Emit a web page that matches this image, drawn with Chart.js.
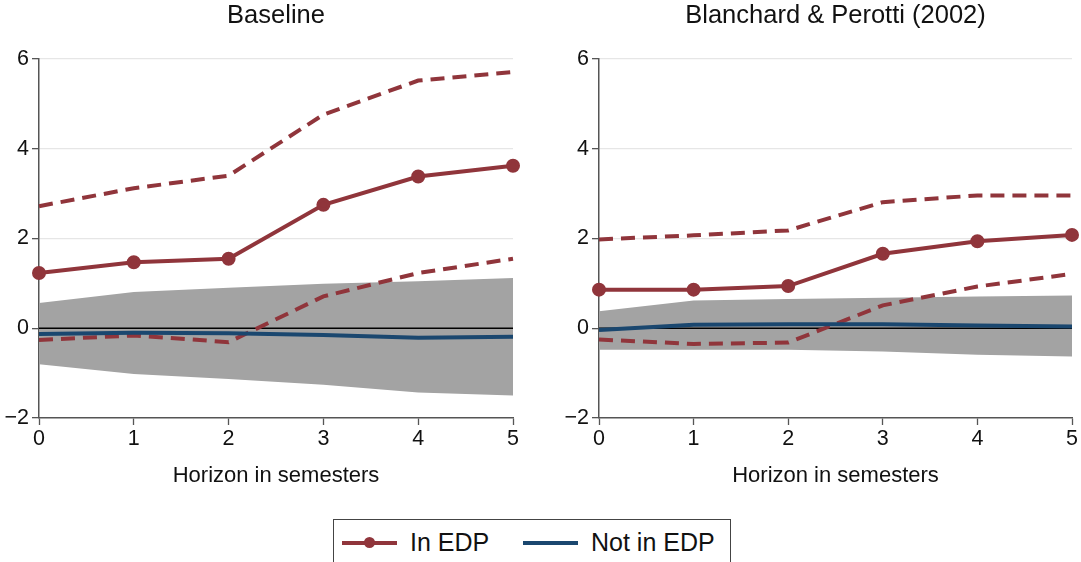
<!DOCTYPE html>
<html>
<head>
<meta charset="utf-8">
<script src="https://cdn.jsdelivr.net/npm/chart.js@4.4.1/dist/chart.umd.min.js"></script>
<style>
  body { margin: 0; background: #fff; width: 1081px; height: 562px; overflow: hidden; position: relative; font-family: "Liberation Sans", Arial, sans-serif; }
  .panel { position: absolute; top: 0; height: 500px; }
  #left { left: 0; width: 560px; }
  #right { left: 560px; width: 521px; }
  #legend { position: absolute; left: 333px; top: 519px; width: 396px; height: 60px; border: 1px solid #444; }
  .item { position: absolute; top: 7px; height: 30px; font-size: 25px; line-height: 30px; color: #111; }
  .sym { position: absolute; top: 14px; height: 4px; }
  .dot { position: absolute; width: 11px; height: 11px; border-radius: 50%; top: -4px; }
</style>
</head>
<body>
<div class="panel" id="left"><canvas id="chartLeft"></canvas></div>
<div class="panel" id="right"><canvas id="chartRight"></canvas></div>
<div id="legend">
  <div class="item" style="left:8px;"><div class="sym" style="left:0;width:55px;background:#90353b;"><div class="dot" style="left:22px;background:#90353b;"></div></div><span style="margin-left:68px;">In EDP</span></div>
  <div class="item" style="left:189px;"><div class="sym" style="left:0;width:55px;background:#1a476f;"></div><span style="margin-left:68px;">Not in EDP</span></div>
</div>
<script>
const horizons = ["0", "1", "2", "3", "4", "5"];
const yTicks = [-2, 0, 2, 4, 6];

// Baseline
const baseIn = [1.23, 1.47, 1.55, 2.75, 3.38, 3.62];
const baseInUpper = [2.72, 3.12, 3.40, 4.76, 5.52, 5.71];
const baseInLower = [-0.26, -0.16, -0.31, 0.71, 1.23, 1.55];
const baseNot = [-0.13, -0.10, -0.11, -0.15, -0.21, -0.19];
const baseNotUpper = [0.56, 0.81, 0.90, 0.99, 1.05, 1.12];
const baseNotLower = [-0.80, -1.02, -1.13, -1.26, -1.43, -1.50];

// Blanchard & Perotti (2002)
const bpIn = [0.86, 0.86, 0.94, 1.66, 1.94, 2.08];
const bpInUpper = [1.98, 2.07, 2.18, 2.81, 2.96, 2.96];
const bpInLower = [-0.25, -0.35, -0.32, 0.51, 0.93, 1.21];
const bpNot = [-0.04, 0.08, 0.09, 0.09, 0.06, 0.04];
const bpNotUpper = [0.38, 0.62, 0.65, 0.68, 0.71, 0.73];
const bpNotLower = [-0.48, -0.48, -0.48, -0.52, -0.59, -0.63];

const red = "#90353b";
const blue = "#1a476f";
const band = "#a3a3a3";
const font = "'Liberation Sans', Arial, sans-serif";

// black reference line at zero, drawn just above the grey band
const zeroLine = {
    id: "zeroLine",
    afterDatasetDraw(chart, args) {
        if (chart.data.datasets[args.index].label !== "bandUpper") return;
        const ctx = chart.ctx;
        const y = chart.scales.y.getPixelForValue(0);
        ctx.save();
        ctx.strokeStyle = "#000";
        ctx.lineWidth = 1.3;
        ctx.beginPath();
        ctx.moveTo(chart.chartArea.left, y);
        ctx.lineTo(chart.chartArea.right, y);
        ctx.stroke();
        ctx.restore();
    }
};

// panel title centred over the plot region (not the whole canvas)
const panelTitle = {
    id: "panelTitle",
    afterDraw(chart, args, opts) {
        const ctx = chart.ctx;
        const a = chart.chartArea;
        ctx.save();
        ctx.fillStyle = "#111";
        ctx.font = "25.5px " + font;
        ctx.textAlign = "center";
        ctx.textBaseline = "middle";
        ctx.fillText(opts.text, (a.left + a.right) / 2, 16);
        ctx.restore();
    }
};

function makeChart(id, title, inMid, inUp, inLo, notMid, notUp, notLo, rightPad) {
    const ctx = document.getElementById(id).getContext("2d");
    return new Chart(ctx, {
        type: "line",
        data: {
            labels: horizons,
            datasets: [
                { label: "In EDP", data: inMid, borderColor: red, backgroundColor: red, borderWidth: 4, pointRadius: 5, pointHoverRadius: 5, tension: 0, order: 1 },
                { label: "Not in EDP", data: notMid, borderColor: blue, borderWidth: 4, pointRadius: 0, tension: 0, order: 2 },
                { label: "inUpper", data: inUp, borderColor: red, borderWidth: 4, borderDash: [14, 8], pointRadius: 0, tension: 0, order: 3 },
                { label: "inLower", data: inLo, borderColor: red, borderWidth: 4, borderDash: [14, 8], pointRadius: 0, tension: 0, order: 3 },
                { label: "bandLower", data: notLo, borderWidth: 0, pointRadius: 0, fill: false, tension: 0, order: 6 },
                { label: "bandUpper", data: notUp, borderWidth: 0, pointRadius: 0, fill: "-1", backgroundColor: band, tension: 0, order: 5 }
            ]
        },
        options: {
            responsive: true,
            maintainAspectRatio: false,
            animation: false,
            layout: { padding: { left: 0, right: rightPad, top: 59, bottom: 0 } },
            plugins: {
                legend: { display: false },
                tooltip: { enabled: false },
                title: { display: false },
                panelTitle: { text: title }
            },
            scales: {
                x: {
                    offset: false,
                    grid: { drawOnChartArea: false, drawTicks: true, tickLength: 7, tickColor: "#555", tickWidth: 1.3 },
                    border: { color: "#555", width: 1.5 },
                    ticks: { color: "#111", padding: 1, maxRotation: 0, font: { family: font, size: 21.5 } },
                    title: { display: true, text: "Horizon in semesters", color: "#111", font: { family: font, size: 22 }, padding: { top: 0, bottom: 11 } },
                    afterFit(scale) { scale.height = 82; }
                },
                y: {
                    min: -2,
                    max: 6,
                    afterBuildTicks(scale) { scale.ticks = yTicks.map(v => ({ value: v })); },
                    grid: {
                        color: c => (c.tick && c.tick.value > 0 ? "#e6e6e6" : "rgba(0,0,0,0)"),
                        lineWidth: 1.3,
                        tickLength: 7,
                        tickColor: "#555",
                        tickWidth: 1.3
                    },
                    border: { color: "#555", width: 1.5 },
                    ticks: {
                        color: "#111",
                        padding: 3,
                        font: { family: font, size: 21.5 },
                        callback: v => (v < 0 ? "\u2212" + Math.abs(v) : String(v))
                    },
                    afterFit(scale) { scale.width = 39; }
                }
            }
        },
        plugins: [zeroLine, panelTitle]
    });
}

makeChart("chartLeft", "Baseline", baseIn, baseInUpper, baseInLower, baseNot, baseNotUpper, baseNotLower, 47);
makeChart("chartRight", "Blanchard & Perotti (2002)", bpIn, bpInUpper, bpInLower, bpNot, bpNotUpper, bpNotLower, 9);
</script>
</body>
</html>
